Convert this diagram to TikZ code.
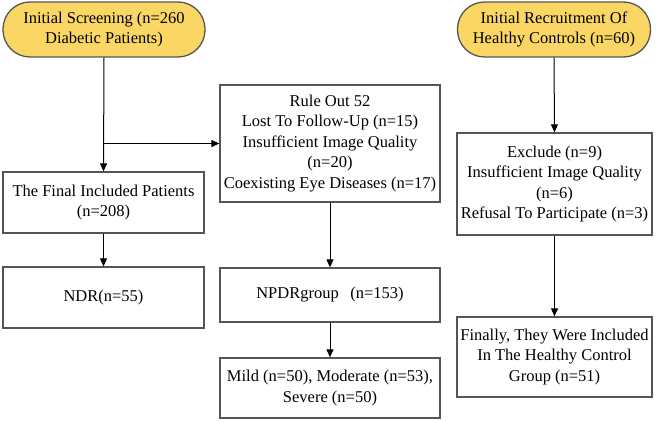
\documentclass[tikz,border=0pt]{standalone}
\usepackage{fontspec}
\newfontfamily\boxfont{Liberation Serif}
\usetikzlibrary{arrows.meta}

\definecolor{startyellow}{RGB}{250,214,100}
\definecolor{boxgray}{RGB}{85,85,85}

\tikzset{
  box/.style={draw=boxgray, line width=1.3pt, align=center, inner sep=2pt,
    font=\boxfont\fontsize{16.5}{20.5}\selectfont},
  startbox/.style={box, fill=startyellow, rounded corners=27pt},
  flow/.style={line width=1pt, -{Triangle[length=8pt,width=7pt]}}
}

\begin{document}
\begin{tikzpicture}[x=1pt, y=1pt]
            \useasboundingbox (0,0) rectangle (660,421);

            % diabetic patients
            \node[startbox, minimum width=202pt, minimum height=55pt] (screen) at (104,391.5) {Initial Screening (n=260\\Diabetic Patients)};
            \node[box, minimum width=201pt, minimum height=61pt] (final) at (103.5,218.5) {The Final Included Patients\\(n=208)};
            \node[box, minimum width=201pt, minimum height=61pt] (ndr) at (103.5,123.5) {NDR(n=55)};

            \node[box, minimum width=220pt, minimum height=117pt] (ruleout) at (330,277.5) {Rule Out 52\\Lost To Follow-Up (n=15)\\Insufficient Image Quality\\(n=20)\\Coexisting Eye Diseases (n=17)};
            \node[box, minimum width=220pt, minimum height=54pt] (npdr) at (330,126) {NPDRgroup\hspace{0.7em}(n=153)};
            \node[box, minimum width=220pt, minimum height=60pt] (mild) at (330,33) {Mild (n=50), Moderate (n=53),\\Severe (n=50)};

            % healthy controls
            \node[startbox, minimum width=193pt, minimum height=55pt] (recruit) at (554,391.5) {Initial Recruitment Of\\Healthy Controls (n=60)};
            \node[box, minimum width=195pt, minimum height=102pt] (exclude) at (554.5,237) {Exclude (n=9)\\Insufficient Image Quality\\(n=6)\\Refusal To Participate (n=3)};
            \node[box, minimum width=195pt, minimum height=80pt] (finally) at (554.5,64) {Finally, They Were Included\\In The Healthy Control\\Group (n=51)};

            \coordinate (branch) at (104,277.5);

            \draw[flow] (screen.south) -- (final.north);
            \draw[flow] (branch) -- (ruleout.west);
            \draw[flow] (final.south) -- (ndr.north);
            \draw[flow] (ruleout.south) -- (npdr.north);
            \draw[flow] (npdr.south) -- (mild.north);
            \draw[flow] (recruit.south) -- (exclude.north);
            \draw[flow] (exclude.south) -- (finally.north);
        \end{tikzpicture}
\end{document}
